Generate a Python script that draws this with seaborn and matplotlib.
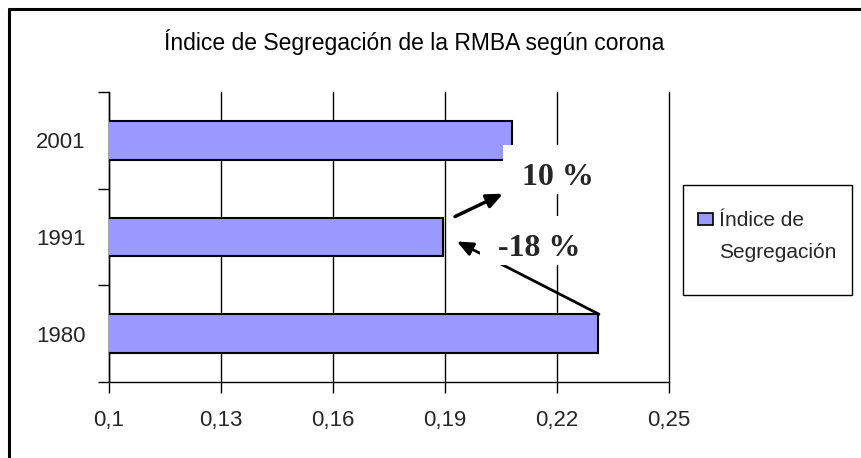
import numpy as np
import pandas as pd
import seaborn as sns
from matplotlib import pyplot as plt
from matplotlib.lines import Line2D
from matplotlib.patches import Patch, Rectangle
from matplotlib.transforms import Bbox, TransformedBbox

#%% Data
years = ['2001', '1991', '1980']
indice = [0.208, 0.1895, 0.231]
x_ticks = [0.1, 0.13, 0.16, 0.19, 0.22, 0.25]
x_tick_labels = ['0,1', '0,13', '0,16', '0,19', '0,22', '0,25']
cambios = ['10 %', '-18 %']

df = pd.DataFrame({'anio': years, 'indice': indice})

#%% Style
sns.set_theme(style='white')
plt.rcParams['font.family'] = ['Liberation Sans', 'DejaVu Sans']

BAR_COLOR = '#9999FF'
W, H = 862, 458

fig = plt.figure(figsize=(W/100, H/100), dpi=100)
ax = fig.add_axes([109/W, 1-382/H, (669-109)/W, (382-92)/H])

sns.barplot(data=df, x='indice', y='anio', orient='h', color=BAR_COLOR,
            width=0.4, edgecolor='black', linewidth=1.5, saturation=1,
            ax=ax, zorder=3)

ax.set_xlim(0.1, 0.25)
ax.set_ylim(2.5, -0.5)
ax.set_xticks(x_ticks)
ax.set_xticklabels(x_tick_labels, fontsize=16)
ax.set_xlabel('')
ax.set_ylabel('')
ax.tick_params(axis='y', which='major', length=0, labelsize=16, pad=17)
ax.set_yticks([-0.5, 0.5, 1.5, 2.5], minor=True)
ax.tick_params(axis='y', which='minor', length=8, width=1, color='black', left=True)
ax.tick_params(axis='x', which='major', length=8, width=1, color='black', bottom=True, pad=12)
ax.grid(axis='x', color='black', linewidth=1, zorder=0)
ax.set_axisbelow(True)
for gl in ax.get_xgridlines():
    gl.set_clip_on(False)
for s in ['top', 'right']:
    ax.spines[s].set_visible(False)
for s in ['left', 'bottom']:
    ax.spines[s].set_color('black')
    ax.spines[s].set_linewidth(1)

# pixel -> data helpers for the hand placed annotations
def dx(px):
    return 0.1 + (px - 109) / (560 / 0.15)

def dy(py):
    return (py - 141.5) / 97

# arrows
ax.annotate('', xy=(dx(503), dy(195)), xytext=(dx(455), dy(218)),
            arrowprops=dict(arrowstyle='-|>,head_length=0.8,head_width=0.35',
                            color='black', lw=2.5, shrinkA=0, shrinkB=0),
            zorder=3.5)
ax.annotate('', xy=(dx(457), dy(243)), xytext=(dx(599), dy(316)),
            arrowprops=dict(arrowstyle='-|>,head_length=0.8,head_width=0.35',
                            color='black', lw=2.0, shrinkA=0, shrinkB=0),
            zorder=3.5)

# white text frames (cover bar corner, grid and arrow line like the original)
for (x0, x1, y0, y1) in [(503, 615, 146, 195), (480, 605, 217, 267)]:
    ax.add_patch(Rectangle((dx(x0), dy(y0)), dx(x1) - dx(x0), dy(y1) - dy(y0),
                           facecolor='white', edgecolor='none', zorder=4))

for txt, cx, base, top in [(cambios[0], 558, 186, 146), (cambios[1], 539, 258, 217)]:
    t = ax.text(dx(cx), dy(base), txt, ha='center', va='baseline', fontsize=23,
                fontweight='bold', family=['Liberation Serif'], zorder=6)
    clip = TransformedBbox(Bbox([[(cx - 80)/W, 1 - base/H], [(cx + 80)/W, 1 - top/H]]),
                           fig.transFigure)
    t.set_clip_box(clip)
    t.set_clip_on(True)

fig.text(414/W, 1-42/H, 'Índice de Segregación de la RMBA según corona',
         ha='center', va='center', fontsize=16.5, color='black')

# legend
leg = fig.legend(handles=[Patch(facecolor=BAR_COLOR, edgecolor='black', linewidth=1.2,
                                label='Índice de'),
                          Patch(visible=False, label='Segregación')],
                 loc='upper left', bbox_to_anchor=(698/W, 1-211/H),
                 fontsize=15, frameon=False, handlelength=0.7,
                 handleheight=0.5, handletextpad=0.3, borderpad=0,
                 labelspacing=0.62, borderaxespad=0)
fig.add_artist(Rectangle((683/W, 1-295/H), 169/W, 110/H, transform=fig.transFigure,
                         fill=False, edgecolor='black', linewidth=1))

# outer chart border (left and top visible)
fig.add_artist(Line2D([9/W, 9/W], [0, 1-9/H], transform=fig.transFigure,
                      color='black', lw=2.2))
fig.add_artist(Line2D([9/W, 1], [1-9/H, 1-9/H], transform=fig.transFigure,
                      color='black', lw=2.2))

plt.savefig('out.png', dpi=100)
plt.close()
